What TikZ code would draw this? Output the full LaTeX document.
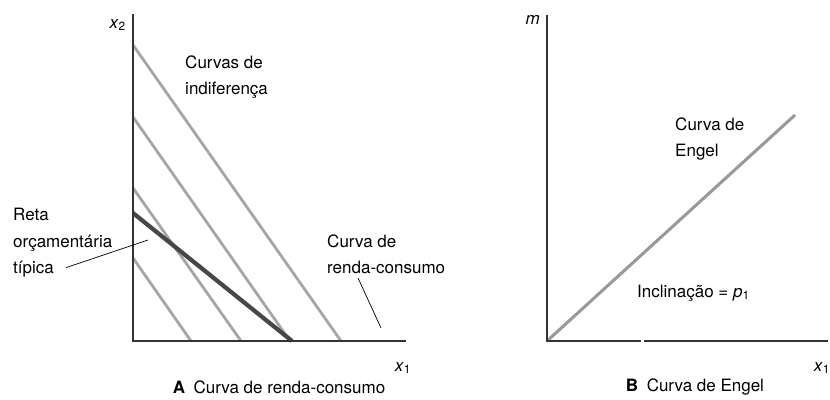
\documentclass[tikz,border=0pt]{standalone}
\usepackage{fontspec}
\setmainfont{TeX Gyre Heros}
\newcommand{\sub}[2]{\textit{#1}\textsubscript{#2}}
\begin{document}
\begin{tikzpicture}[x=0.03cm,y=-0.03cm,
  font=\fontsize{14.5}{22.5}\selectfont,
  axis/.style={draw=black!80,line width=1.6pt},
  indiff/.style={draw=black!35,line width=2.4pt},
  budget/.style={draw=black!72,line width=3.6pt},
  engel/.style={draw=black!40,line width=2.6pt},
  pointer/.style={draw=black,line width=0.6pt},
  lbl/.style={align=left,inner sep=0pt,anchor=west}]
  \useasboundingbox (0,0) rectangle (830,400);
  % panel A: renda-consumo
  \coordinate (oA) at (133,341);
  \coordinate (yA) at (133,14);
  \coordinate (xA) at (406,341);
  \foreach \a/\b in {45/341,117/290,188/241,258/191}
    \draw[indiff] (133,\a) -- (\b,341);
  \draw[budget] (133,213) -- (292,341);
  \draw[axis] (yA) -- (oA) -- (xA);
  \node[anchor=east] (x2A) at (130,25) {\sub{x}{2}};
  \node (x1A) at (403,368) {\sub{x}{1}};
  \node[lbl] (indif) at (185,77) {Curvas de\\indiferença};
  \node[lbl] (reta) at (13,243) {Reta\\orçamentária\\típica};
  \coordinate (retaEnd) at (148,240);
  \draw[pointer] ([shift={(53,-10)}]reta.south west) -- (retaEnd);
  \node[lbl] (rc) at (327,254) {Curva de\\renda-consumo};
  \coordinate (rcEnd) at (381,328);
  \draw[pointer] ([shift={(31,4)}]rc.south west) -- (rcEnd);
  \node (capA) at (279,387) {\textbf{A}\enspace Curva de renda-consumo};
  % panel B: Engel
  \coordinate (oB) at (547,341);
  \coordinate (yB) at (547,15);
  \coordinate (xB) at (828,341);
  \coordinate (gapL) at (641,341);
  \coordinate (gapR) at (644,341);
  \coordinate (engelEnd) at (795,115);
  \draw[engel] (oB) -- (engelEnd);
  \draw[axis] (yB) -- (oB) -- (gapL);
  \draw[axis] (gapR) -- (xB);
  \node[anchor=east] (mB) at (544,20) {\textit{m}};
  \node (x1B) at (822,368) {\sub{x}{1}};
  \node[lbl] (engelLbl) at (675,139) {Curva de\\Engel};
  \node[lbl] (slope) at (637,293) {Inclinação = \sub{p}{1}};
  \node (capB) at (695,387) {\textbf{B}\enspace Curva de Engel};
\end{tikzpicture}
\end{document}
